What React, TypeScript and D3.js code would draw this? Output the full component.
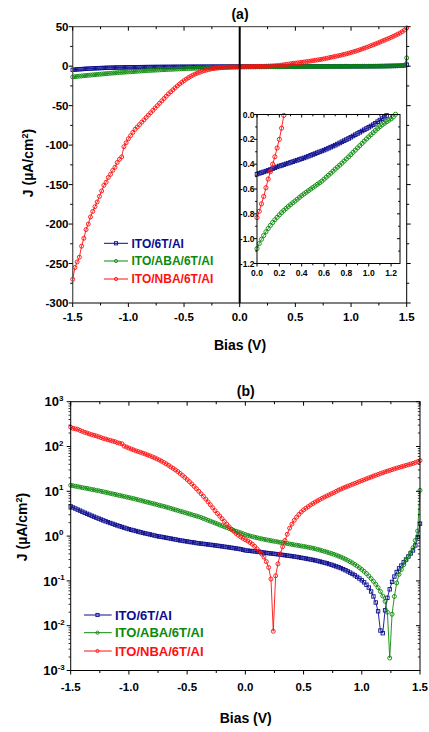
import React from "react";
import * as d3 from "d3";

// Bias sweep: -1.5 V to 1.5 V in 0.02 V steps (151 points)
const BIAS_START = -1.5;
const BIAS_STEP = 0.02;
const BIAS: number[] = d3.range(151).map((i) => +(BIAS_START + BIAS_STEP * i).toFixed(2));

// J (µA/cm²)
const J_6T: number[] = [
  -4.6, -4.35, -4.12, -3.9, -3.7, -3.5, -3.32, -3.15, -3.0, -2.85,
  -2.71, -2.58, -2.46, -2.35, -2.24, -2.14, -2.05, -1.96, -1.88, -1.8,
  -1.73, -1.66, -1.6, -1.54, -1.48, -1.43, -1.38, -1.34, -1.3, -1.26,
  -1.22, -1.18, -1.15, -1.12, -1.09, -1.06, -1.03, -1.0, -0.98, -0.96,
  -0.94, -0.92, -0.9, -0.88, -0.86, -0.84, -0.82, -0.8, -0.79, -0.77,
  -0.76, -0.74, -0.73, -0.72, -0.7, -0.69, -0.68, -0.67, -0.66, -0.65,
  -0.64, -0.63, -0.62, -0.61, -0.6, -0.59, -0.58, -0.57, -0.56, -0.55,
  -0.54, -0.53, -0.52, -0.51, -0.495, -0.48, -0.474, -0.468, -0.462, -0.456,
  -0.45, -0.443, -0.436, -0.429, -0.422, -0.415, -0.41, -0.404, -0.398, -0.392,
  -0.386, -0.38, -0.374, -0.368, -0.362, -0.356, -0.35, -0.343, -0.336, -0.329,
  -0.322, -0.315, -0.308, -0.301, -0.294, -0.287, -0.279, -0.271, -0.263, -0.255,
  -0.247, -0.238, -0.229, -0.22, -0.211, -0.202, -0.193, -0.183, -0.173, -0.163,
  -0.153, -0.143, -0.133, -0.123, -0.113, -0.103, -0.093, -0.082, -0.071, -0.058,
  -0.045, -0.033, -0.021, -0.0078, 0.0068, 0.022, 0.042, 0.065, 0.095, 0.125,
  0.158, 0.19, 0.22, 0.26, 0.3, 0.35, 0.41, 0.48, 0.62, 0.95,
  1.9,
];

const J_ABA: number[] = [
  -13.6, -13.3, -13.0, -12.7, -12.4, -12.1, -11.8, -11.6, -11.3, -11.0,
  -10.8, -10.5, -10.3, -10.0, -9.75, -9.49, -9.24, -9.0, -8.75, -8.53,
  -8.3, -8.07, -7.87, -7.66, -7.45, -7.25, -7.06, -6.87, -6.67, -6.46,
  -6.27, -6.07, -5.89, -5.71, -5.53, -5.37, -5.2, -5.05, -4.89, -4.74,
  -4.59, -4.46, -4.31, -4.15, -4.01, -3.86, -3.73, -3.6, -3.48, -3.35,
  -3.24, -3.12, -3.01, -2.9, -2.81, -2.7, -2.6, -2.48, -2.37, -2.25,
  -2.15, -2.05, -1.96, -1.87, -1.78, -1.7, -1.62, -1.55, -1.48, -1.41,
  -1.34, -1.28, -1.23, -1.18, -1.13, -1.08, -1.04, -1.005, -0.975, -0.945,
  -0.918, -0.893, -0.87, -0.848, -0.828, -0.808, -0.79, -0.773, -0.757, -0.741,
  -0.726, -0.711, -0.697, -0.683, -0.668, -0.653, -0.64, -0.627, -0.614, -0.601,
  -0.588, -0.576, -0.563, -0.55, -0.537, -0.521, -0.505, -0.489, -0.473, -0.457,
  -0.44, -0.424, -0.408, -0.392, -0.375, -0.358, -0.341, -0.323, -0.305, -0.287,
  -0.269, -0.251, -0.233, -0.215, -0.197, -0.18, -0.163, -0.146, -0.129, -0.113,
  -0.098, -0.084, -0.071, -0.058, -0.046, -0.035, -0.02, 0.0019, 0.018, 0.045,
  0.09, 0.14, 0.18, 0.23, 0.29, 0.35, 0.43, 0.55, 0.8, 1.3,
  10.5,
];

const J_NBA: number[] = [
  -270, -255, -248, -242, -228, -218, -207, -200, -191, -184,
  -178, -172, -165, -158, -151, -147, -141, -137, -132, -128,
  -122, -118, -115, -102, -97, -92, -88, -84, -80, -77,
  -74, -71, -68, -65, -62, -59, -56, -53, -50, -47,
  -44, -41, -38, -35, -32.5, -30, -27.5, -25, -22.6, -20.4,
  -18.3, -16.4, -14.6, -12.9, -11.4, -10.0, -8.8, -7.7, -6.7, -5.8,
  -5.0, -4.3, -3.7, -3.2, -2.8, -2.45, -2.12, -1.85, -1.62, -1.43,
  -1.28, -1.15, -1.05, -0.96, -0.89, -0.83, -0.78, -0.72, -0.66, -0.59,
  -0.52, -0.46, -0.4, -0.34, -0.27, -0.2, -0.11, -0.0075, 0.13, 0.24,
  0.4, 0.58, 0.8, 1.1, 1.5, 1.85, 2.25, 2.65, 3.05, 3.45,
  3.85, 4.2, 4.55, 4.95, 5.35, 5.75, 6.15, 6.55, 7.0, 7.45,
  7.9, 8.35, 8.85, 9.35, 9.95, 10.6, 11.2, 11.8, 12.4, 13.0,
  13.6, 14.3, 15.0, 15.7, 16.5, 17.3, 18.1, 19.0, 19.9, 20.8,
  21.8, 22.8, 23.8, 24.9, 26.0, 27.1, 28.2, 29.3, 30.5, 31.7,
  32.9, 34.1, 35.3, 36.5, 37.8, 39.1, 40.5, 42.0, 43.8, 45.8,
  48.5,
];

const SERIES_NAMES = ["ITO/6T/Al", "ITO/ABA/6T/Al", "ITO/NBA/6T/Al"];
const SERIES_LABELS = ["ITO/6T/AI", "ITO/ABA/6T/AI", "ITO/NBA/6T/AI"];
const SERIES_COLORS = ["#0c0c8e", "#0b8a0b", "#ff1010"];
const SERIES_SHAPES = ["square", "circle", "circle"];
const SERIES_VALUES = [J_6T, J_ABA, J_NBA];

const A_X_TICKS = [-1.5, -1.0, -0.5, 0.0, 0.5, 1.0, 1.5];
const A_Y_TICKS = [50, 0, -50, -100, -150, -200, -250, -300];
const INSET_X_TICKS = [0, 0.2, 0.4, 0.6, 0.8, 1.0, 1.2];
const INSET_Y_TICKS = [0, -0.2, -0.4, -0.6, -0.8, -1.0, -1.2];
const B_Y_EXPONENTS = [3, 2, 1, 0, -1, -2, -3];

const FONT = "Arial, 'Liberation Sans', Helvetica, sans-serif";

type Pt = [number, number];

function Marker({ shape, x, y, color, size }: { shape: string; x: number; y: number; color: string; size: number }) {
  if (shape === "square") {
    return <rect x={x - size / 2} y={y - size / 2} width={size} height={size} fill="none" stroke={color} strokeWidth={0.9} />;
  }
  return <circle cx={x} cy={y} r={size / 2} fill="none" stroke={color} strokeWidth={0.9} />;
}

function Series({ pts, color, shape, size }: { pts: Pt[]; color: string; shape: string; size: number }) {
  const line = d3.line<Pt>().x((d) => d[0]).y((d) => d[1]);
  return (
    <g>
      <path d={line(pts) || ""} fill="none" stroke={color} strokeWidth={0.9} />
      {pts.map((p, i) => (
        <Marker key={i} shape={shape} x={p[0]} y={p[1]} color={color} size={size} />
      ))}
    </g>
  );
}

function fmt1(v: number) {
  return (Math.abs(v) < 1e-9 ? 0 : v).toFixed(1);
}

export default function App() {
  // ---------- Panel (a) ----------
  const ax = d3.scaleLinear().domain([-1.5, 1.5]).range([72.7, 406.7]);
  const ay = d3.scaleLinear().domain([-300, 50]).range([303, 26.7]);
  const aL = 72.7, aR = 406.7, aT = 26.7, aB = 303;
  const aXMinor = d3.range(-1.5, 1.5001, 0.25);
  const aYMinor = d3.range(-300, 50.001, 25);

  // inset
  const ix = d3.scaleLinear().domain([0, 1.28]).range([257, 400]);
  const iy = d3.scaleLinear().domain([-1.2, 0]).range([263.5, 114.5]);
  const iL = 257, iR = 400, iT = 114.5, iB = 263.5;
  const iXMinor = d3.range(0, 1.2801, 0.1);
  const iYMinor = d3.range(-1.2, 0.0001, 0.1);

  // ---------- Panel (b) ----------
  const bx = d3.scaleLinear().domain([-1.5, 1.5]).range([70.7, 420]);
  const by = d3.scaleLog().domain([1e-3, 1e3]).range([670.5, 401.7]);
  const bL = 70.7, bR = 420, bT = 401.7, bB = 670.5;
  const bYMinor: number[] = [];
  for (let e = -3; e < 3; e++) for (let m = 2; m <= 9; m++) bYMinor.push(m * Math.pow(10, e));

  const black = "#000";

  return (
    <svg width={429} height={732} style={{ position: "absolute", left: 0, top: 0, background: "#fff" }} fontFamily={FONT}>
      <rect x={0} y={0} width={429} height={732} fill="#fff" />

      {/* ===== (a) ===== */}
      <text x={240} y={19} textAnchor="middle" fontSize={14} fontWeight="bold">(a)</text>

      {/* data */}
      {SERIES_VALUES.map((vals, s) => (
        <Series
          key={s}
          pts={vals.map((v, i) => [ax(BIAS[i]), ay(v)] as Pt)}
          color={SERIES_COLORS[s]}
          shape={SERIES_SHAPES[s]}
          size={s === 0 ? 3.4 : 4}
        />
      ))}

      {/* zero line */}
      <line x1={ax(0)} x2={ax(0)} y1={aT} y2={aB} stroke={black} strokeWidth={2} />

      {/* frame */}
      <line x1={aL} x2={aR} y1={aB} y2={aB} stroke={black} strokeWidth={1} />
      <line x1={aL} x2={aR} y1={aT} y2={aT} stroke="#333" strokeWidth={1} />
      <line x1={aL} x2={aL} y1={aT} y2={aB} stroke="#555" strokeWidth={1.3} />
      <line x1={aR} x2={aR} y1={aT} y2={aB} stroke={black} strokeWidth={1} />
      {aXMinor.map((v, i) => {
        const major = i % 2 === 0;
        const L = major ? 4 : 2.5;
        return (
          <g key={"axm" + i}>
            <line x1={ax(v)} x2={ax(v)} y1={aB} y2={aB + L} stroke={black} />
            <line x1={ax(v)} x2={ax(v)} y1={aT} y2={aT + L} stroke={black} />
          </g>
        );
      })}
      {aYMinor.map((v, i) => {
        const major = i % 2 === 0;
        const L = major ? 4 : 2.5;
        return (
          <g key={"aym" + i}>
            <line x1={aL - L} x2={aL} y1={ay(v)} y2={ay(v)} stroke={black} />
            <line x1={aR} x2={aR + L} y1={ay(v)} y2={ay(v)} stroke={black} />
          </g>
        );
      })}
      {A_X_TICKS.map((v) => (
        <text key={"axl" + v} x={ax(v)} y={321} textAnchor="middle" fontSize={11.5} fontWeight="bold">{fmt1(v)}</text>
      ))}
      {A_Y_TICKS.map((v) => (
        <text key={"ayl" + v} x={68.5} y={ay(v) + 4.1} textAnchor="end" fontSize={11.5} fontWeight="bold">{String(v)}</text>
      ))}
      <text x={240} y={350} textAnchor="middle" fontSize={14} fontWeight="bold">Bias (V)</text>
      <text transform="translate(33,163) rotate(-90)" textAnchor="middle" fontSize={14} fontWeight="bold">
        J (µA/cm<tspan dy={-5} fontSize={9}>2</tspan><tspan dy={5}>)</tspan>
      </text>

      {/* legend (a) */}
      {SERIES_LABELS.map((lab, s) => {
        const yy = [243.3, 261, 279][s];
        return (
          <g key={"lga" + s}>
            <line x1={104} x2={128} y1={yy} y2={yy} stroke={SERIES_COLORS[s]} strokeWidth={1} />
            <Marker shape={SERIES_SHAPES[s]} x={116} y={yy} color={SERIES_COLORS[s]} size={3.2} />
            <text x={131.5} y={yy + 4.3} fontSize={12} fontWeight="bold" fill={SERIES_COLORS[s]}>{lab}</text>
          </g>
        );
      })}

      {/* inset */}
      <rect x={iL} y={iT} width={iR - iL} height={iB - iT} fill="#fff" />
      {SERIES_VALUES.map((vals, s) => {
        const pts: Pt[] = [];
        vals.forEach((v, i) => {
          if (BIAS[i] >= 0 && BIAS[i] <= 1.28 && v <= 0.003) pts.push([ix(BIAS[i]), iy(v)]);
        });
        return <Series key={"in" + s} pts={pts} color={SERIES_COLORS[s]} shape={SERIES_SHAPES[s]} size={s === 0 ? 3.6 : 4.2} />;
      })}
      <rect x={iL} y={iT} width={iR - iL} height={iB - iT} fill="none" stroke={black} strokeWidth={1} />
      {iXMinor.map((v, i) => {
        const major = i % 2 === 0;
        const L = major ? 3 : 1.8;
        return (
          <g key={"ixm" + i}>
            <line x1={ix(v)} x2={ix(v)} y1={iB} y2={iB + L} stroke={black} />
            <line x1={ix(v)} x2={ix(v)} y1={iT} y2={iT + L} stroke={black} />
          </g>
        );
      })}
      {iYMinor.map((v, i) => {
        const major = i % 2 === 0;
        const L = major ? 3 : 1.8;
        return (
          <g key={"iym" + i}>
            <line x1={iL - L} x2={iL} y1={iy(v)} y2={iy(v)} stroke={black} />
            <line x1={iR - L} x2={iR} y1={iy(v)} y2={iy(v)} stroke={black} />
          </g>
        );
      })}
      {INSET_X_TICKS.map((v) => (
        <text key={"ixl" + v} x={ix(v)} y={275.8} textAnchor="middle" fontSize={8.5} fontWeight="bold">{fmt1(v)}</text>
      ))}
      {INSET_Y_TICKS.map((v) => (
        <text key={"iyl" + v} x={254.5} y={iy(v) + 3} textAnchor="end" fontSize={8.5} fontWeight="bold">{fmt1(v)}</text>
      ))}

      {/* ===== (b) ===== */}
      <text x={245.7} y={395.7} textAnchor="middle" fontSize={14} fontWeight="bold">(b)</text>

      {SERIES_VALUES.map((vals, s) => (
        <Series
          key={"b" + s}
          pts={vals.map((v, i) => [bx(BIAS[i]), by(Math.abs(v))] as Pt)}
          color={SERIES_COLORS[s]}
          shape={SERIES_SHAPES[s]}
          size={s === 0 ? 3.4 : 4}
        />
      ))}

      <rect x={bL} y={bT} width={bR - bL} height={bB - bT} fill="none" stroke={black} strokeWidth={1} />
      {aXMinor.map((v, i) => {
        const major = i % 2 === 0;
        const L = major ? 4 : 2.5;
        return (
          <g key={"bxm" + i}>
            <line x1={bx(v)} x2={bx(v)} y1={bB} y2={bB + L} stroke={black} />
            <line x1={bx(v)} x2={bx(v)} y1={bT} y2={bT + L} stroke={black} />
          </g>
        );
      })}
      {B_Y_EXPONENTS.map((e) => (
        <g key={"bym" + e}>
          <line x1={bL - 4} x2={bL} y1={by(Math.pow(10, e))} y2={by(Math.pow(10, e))} stroke={black} />
          <line x1={bR - 4} x2={bR} y1={by(Math.pow(10, e))} y2={by(Math.pow(10, e))} stroke={black} />
        </g>
      ))}
      {bYMinor.map((v, i) => (
        <g key={"bymn" + i}>
          <line x1={bL - 2.2} x2={bL} y1={by(v)} y2={by(v)} stroke={black} strokeWidth={0.8} />
          <line x1={bR - 2.2} x2={bR} y1={by(v)} y2={by(v)} stroke={black} strokeWidth={0.8} />
        </g>
      ))}
      {A_X_TICKS.map((v) => (
        <text key={"bxl" + v} x={bx(v)} y={690.8} textAnchor="middle" fontSize={11.5} fontWeight="bold">{fmt1(v)}</text>
      ))}
      {B_Y_EXPONENTS.map((e) => (
        <text key={"byl" + e} x={54} y={by(Math.pow(10, e)) + 4.6} textAnchor="middle" fontSize={13} fontWeight="bold">
          10<tspan dy={-5.5} fontSize={8}>{String(e)}</tspan>
        </text>
      ))}
      <text x={245.7} y={723} textAnchor="middle" fontSize={14} fontWeight="bold">Bias (V)</text>
      <text transform="translate(27,527) rotate(-90)" textAnchor="middle" fontSize={14} fontWeight="bold">
        J (µA/cm<tspan dy={-5} fontSize={9}>2</tspan><tspan dy={5}>)</tspan>
      </text>

      {/* legend (b) */}
      {SERIES_LABELS.map((lab, s) => {
        const yy = [615, 632.7, 651][s];
        return (
          <g key={"lgb" + s}>
            <line x1={84} x2={111.7} y1={yy} y2={yy} stroke={SERIES_COLORS[s]} strokeWidth={1} />
            <Marker shape={SERIES_SHAPES[s]} x={97.5} y={yy} color={SERIES_COLORS[s]} size={3.2} />
            <text x={115} y={yy + 4.7} fontSize={13} fontWeight="bold" fill={SERIES_COLORS[s]}>{lab}</text>
          </g>
        );
      })}
      <desc>{SERIES_NAMES.join(", ")}</desc>
    </svg>
  );
}
